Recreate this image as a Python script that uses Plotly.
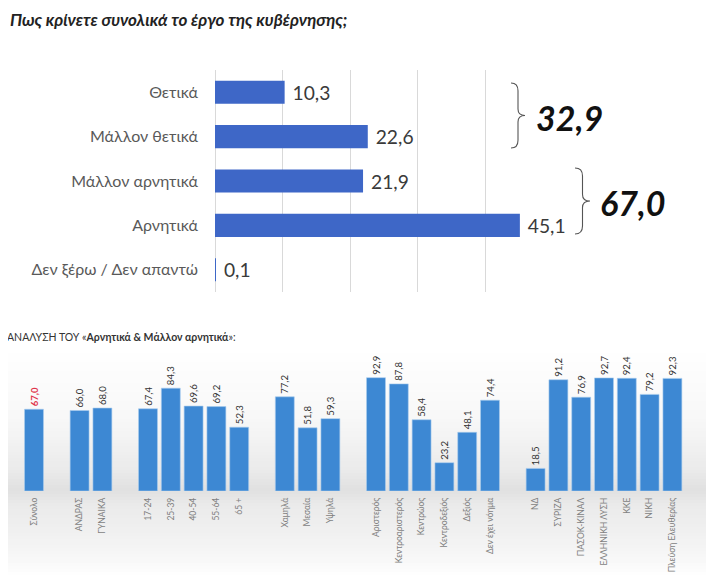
import plotly.graph_objects as go

W, H = 720, 581
OFF = 8  # page body margin offset in the browser

# ---------------- data ----------------
top_categories = ["Θετικά", "Μάλλον θετικά", "Μάλλον αρνητικά", "Αρνητικά", "Δεν ξέρω / Δεν απαντώ"]
top_values = [10.3, 22.6, 21.9, 45.1, 0.1]
sum_positive = 32.9
sum_negative = 67.0

bottom_categories = [
    "Σύνολο",
    "ΑΝΔΡΑΣ", "ΓΥΝΑΙΚΑ",
    "17-24", "25-39", "40-54", "55-64", "65 +",
    "Χαμηλά", "Μεσαία", "Υψηλά",
    "Αριστερός", "Κεντροαριστερός", "Κεντρώος", "Κεντροδεξιός", "Δεξιός", "Δεν έχει νόημα",
    "ΝΔ", "ΣΥΡΙΖΑ", "ΠΑΣΟΚ-ΚΙΝΑΛ", "ΕΛΛΗΝΙΚΗ ΛΥΣΗ", "ΚΚΕ", "ΝΙΚΗ", "Πλεύση Ελευθερίας",
]
bottom_values = [
    67.0,
    66.0, 68.0,
    67.4, 84.3, 69.6, 69.2, 52.3,
    77.2, 51.8, 59.3,
    92.9, 87.8, 58.4, 23.2, 48.1, 74.4,
    18.5, 91.2, 76.9, 92.7, 92.4, 79.2, 92.3,
]
group_sizes = [1, 2, 5, 3, 6, 7]

# --------------- helpers ---------------
FW, FH = W - OFF, H - OFF

def X(px):
    return (px - OFF) / FW

def Y(py):
    return 1 - (py - OFF) / FH

FONT = "Lato"

def fmt(v):
    return f"{v:.1f}".replace(".", ",")

# category order with empty spacer slots between groups
cat_order = []
idx = 0
for g, n in enumerate(group_sizes):
    if g > 0:
        cat_order.append(" " * g)
    cat_order.extend(bottom_categories[idx:idx + n])
    idx += n

fig = go.Figure()

# top horizontal bars
fig.add_trace(go.Bar(
    x=top_values, y=top_categories, orientation="h", width=0.52,
    marker=dict(color="#3e67c7", line=dict(width=0)),
    text=["\u00a0" + fmt(v) for v in top_values], textposition="outside",
    textfont=dict(family=FONT, size=20, color="#3a3a3a"),
    cliponaxis=False, xaxis="x", yaxis="y", hoverinfo="skip",
))

# bottom vertical bars
bottom_text = ["<b>" + fmt(v) + "</b>" if i == 0 else fmt(v) for i, v in enumerate(bottom_values)]
label_colors = ["#e0364c"] + ["#333333"] * (len(bottom_values) - 1)
fig.add_trace(go.Bar(
    x=bottom_categories, y=bottom_values,
    marker=dict(color="#3d88d3", line=dict(width=0.6, color="#a9cdef")),
    text=bottom_text, textposition="outside", textangle=-90,
    textfont=dict(family=FONT, size=12, color=label_colors),
    cliponaxis=False, xaxis="x2", yaxis="y2", hoverinfo="skip",
))

# --------------- shapes ---------------
shapes = []
# soft grey gradient behind bottom chart
profile = [(350, 0.0), (420, 0.03), (470, 0.08), (490, 0.12), (505, 0.08), (540, 0.05), (562, 0.025), (576, 0.0)]

def alpha_at(py):
    for (ya, aa), (yb, ab) in zip(profile[:-1], profile[1:]):
        if ya <= py <= yb:
            return aa + (ab - aa) * (py - ya) / (yb - ya)
    return 0.0

step = 3
py = profile[0][0]
while py < profile[-1][0]:
    a = alpha_at(py + step / 2)
    shapes.append(dict(type="rect", xref="paper", yref="paper",
                       x0=X(8), x1=X(706), y0=Y(py + step), y1=Y(py),
                       fillcolor="rgba(0,0,0,%.3f)" % a,
                       line=dict(width=0), layer="below"))
    py += step

def brace(x0, y0, y1, w):
    ym = (y0 + y1) / 2
    h = y1 - y0
    xm = x0 + w / 2
    pts = [
        f"M {X(x0)},{Y(y0)}",
        f"Q {X(xm)},{Y(y0)} {X(xm)},{Y(y0 + 0.12 * h)}",
        f"L {X(xm)},{Y(ym - 0.1 * h)}",
        f"Q {X(xm)},{Y(ym)} {X(x0 + w)},{Y(ym)}",
        f"Q {X(xm)},{Y(ym)} {X(xm)},{Y(ym + 0.1 * h)}",
        f"L {X(xm)},{Y(y1 - 0.12 * h)}",
        f"Q {X(xm)},{Y(y1)} {X(x0)},{Y(y1)}",
    ]
    return dict(type="path", xref="paper", yref="paper", path=" ".join(pts),
                line=dict(color="#555555", width=1.1))

shapes.append(brace(511, 83, 148, 14))
shapes.append(brace(575, 168, 234, 15))

# --------------- annotations ---------------
annotations = [
    dict(text="<b><i>Πως κρίνετε συνολικά το έργο της κυβέρνησης;</i></b>",
         x=X(9), y=Y(8), xref="paper", yref="paper", xanchor="left", yanchor="top",
         showarrow=False, borderpad=0, font=dict(family=FONT, size=17, color="#222222")),
    dict(text="<b><i>%s</i></b>" % fmt(sum_positive),
         x=X(534), y=Y(118), xref="paper", yref="paper", xanchor="left", yanchor="middle",
         showarrow=False, font=dict(family=FONT, size=34, color="#111111")),
    dict(text="<b><i>%s</i></b>" % fmt(sum_negative),
         x=X(598), y=Y(202), xref="paper", yref="paper", xanchor="left", yanchor="middle",
         showarrow=False, font=dict(family=FONT, size=34, color="#111111")),
    dict(text="ΑΝΑΛΥΣΗ ΤΟΥ «<b>Αρνητικά & Μάλλον αρνητικά</b>»:",
         x=X(5), y=Y(337), xref="paper", yref="paper", xanchor="left", yanchor="middle",
         showarrow=False, font=dict(family=FONT, size=10.5, color="#333333")),
]

fig.update_layout(
    width=FW, height=FH,
    margin=dict(l=0, r=0, t=0, b=0),
    paper_bgcolor="white", plot_bgcolor="rgba(0,0,0,0)",
    showlegend=False,
    separators=", ",
    bargap=0.17,
    font=dict(family=FONT),
    xaxis=dict(domain=[X(215), X(553)], range=[0, 50], dtick=10,
               showgrid=True, gridcolor="#d9d9d9", gridwidth=1,
               zeroline=True, zerolinecolor="#d9d9d9", zerolinewidth=1,
               showticklabels=False, showline=False, ticks="", fixedrange=True),
    yaxis=dict(domain=[Y(292), Y(70)], autorange="reversed",
               categoryorder="array", categoryarray=top_categories,
               showgrid=False, zeroline=False, showline=False, ticks="",
               ticklabelstandoff=16,
               tickfont=dict(family=FONT, size=16, color="#595959"), fixedrange=True),
    xaxis2=dict(domain=[X(22.6), X(683.8)], anchor="y2",
                type="category", categoryorder="array", categoryarray=cat_order,
                range=[-0.5, len(cat_order) - 0.5],
                tickangle=-90, ticks="", showline=False, showgrid=False,
                ticklabelstandoff=4,
                tickfont=dict(family=FONT, size=8.5, color="#7f7f7f"), fixedrange=True),
    yaxis2=dict(domain=[Y(491), Y(369)], anchor="x2", range=[0, 100],
                visible=False, fixedrange=True),
    shapes=shapes,
    annotations=annotations,
)

fig.write_html("out.html")
